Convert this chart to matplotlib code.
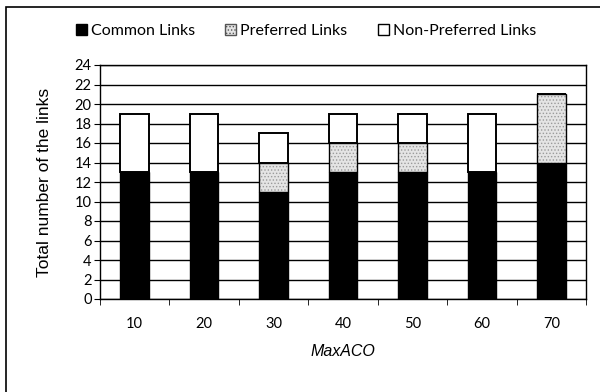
import matplotlib.pyplot as plt
import matplotlib.patches as mpatches
import numpy as np

max_aco = ["10", "20", "30", "40", "50", "60", "70"]
common = [13, 13, 11, 13, 13, 13, 14]
preferred = [0, 0, 3, 3, 3, 0, 7]
non_preferred = [6, 6, 3, 3, 3, 6, 0]

plt.rcParams['font.family'] = ['Lato', 'DejaVu Sans']
plt.rcParams['hatch.linewidth'] = 0.6

fig = plt.figure(figsize=(6, 3.92), dpi=100)
ax = fig.add_axes([100 / 600, 1 - 299 / 392, 486 / 600, 234 / 392])

x = np.arange(len(max_aco))
w = 0.41
common = np.array(common)
preferred = np.array(preferred)
non_preferred = np.array(non_preferred)

ax.bar(x, common, w, color='black', edgecolor='black', lw=1, zorder=3)
# stippled grey fill, then a separate black outline
ax.bar(x, preferred, w, bottom=common, color='#e4e4e4', edgecolor='#9a9a9a',
       lw=0, hatch='.....', zorder=3)
ax.bar(x, preferred, w, bottom=common, fill=False, edgecolor='black',
       lw=1, zorder=4)
ax.bar(x, non_preferred, w, bottom=common + preferred, color='white',
       edgecolor='black', lw=1.4, zorder=3)

ax.set_xlim(-0.5, len(max_aco) - 0.5)
ax.set_ylim(0, 24)
ax.set_yticks(range(0, 25, 2))
ax.yaxis.grid(True, color='black', lw=1)
ax.set_axisbelow(True)
ax.set_xticks(x)
ax.set_xticklabels(max_aco, fontsize=10.5)
ax.set_xticks(np.arange(-0.5, len(max_aco)), minor=True)
ax.tick_params(axis='x', which='major', length=0, pad=13)
ax.tick_params(axis='x', which='minor', length=4, direction='out')
ax.tick_params(axis='y', length=4, labelsize=10.5, pad=2)
for s in ax.spines.values():
    s.set_color('black')
    s.set_linewidth(1)

ax.set_ylabel('Total number of the links', family='Liberation Sans', fontsize=12.5, labelpad=16)
ax.set_xlabel('MaxACO', family='Liberation Sans', style='italic', fontsize=11.5, labelpad=9)

handles = [
    mpatches.Patch(facecolor='black', edgecolor='black', label='Common Links'),
    mpatches.Patch(facecolor='#e4e4e4', edgecolor='#555555', hatch='.....', label='Preferred Links'),
    mpatches.Patch(facecolor='white', edgecolor='black', label='Non-Preferred Links'),
]
fig.legend(handles=handles, loc='center', bbox_to_anchor=(306 / 600, 1 - 31 / 392), ncol=3,
           frameon=False, fontsize=11.5, handlelength=0.7, handleheight=0.7,
           handletextpad=0.25, columnspacing=1.9)

# outer frame around the chart area
fig.patches.append(mpatches.Rectangle((6 / 600, -0.1), 1.2, 1 - 7 / 392 + 0.1,
                                      transform=fig.transFigure, fill=False,
                                      edgecolor='black', lw=1.2))

fig.savefig('out.png', dpi=100)
